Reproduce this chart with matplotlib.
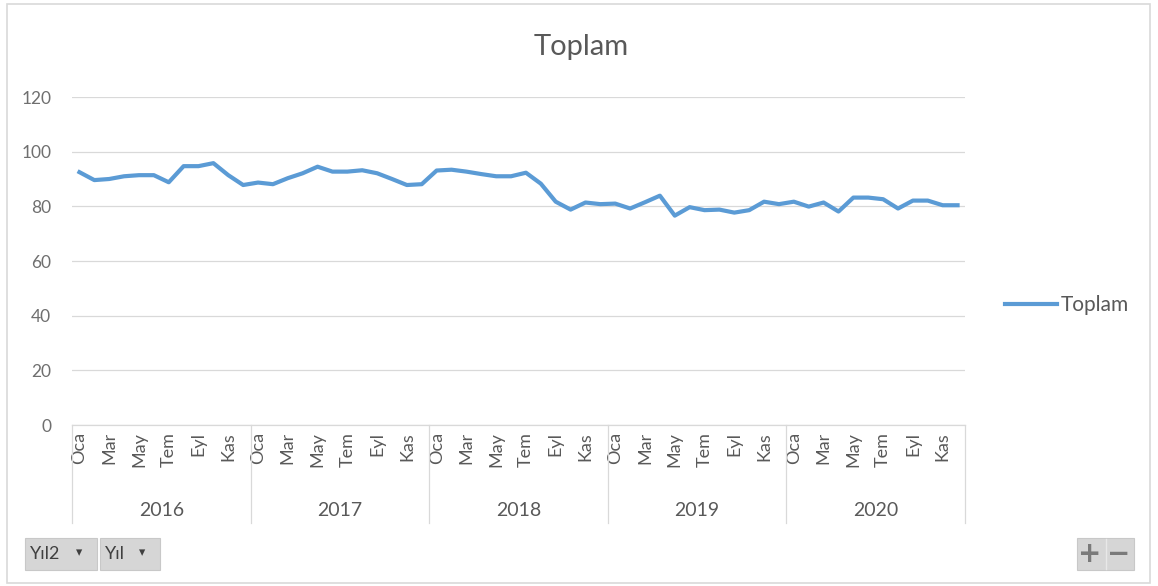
import matplotlib
matplotlib.use("Agg")
import matplotlib.pyplot as plt
import matplotlib.transforms as mtransforms
from matplotlib.patches import Rectangle

plt.rcParams['font.family'] = ['Lato', 'DejaVu Sans']

# aylık toplam değerler, 2016-2020
years = ["2016", "2017", "2018", "2019", "2020"]
months = ["Oca", "Şub", "Mar", "Nis", "May", "Haz",
          "Tem", "Ağu", "Eyl", "Eki", "Kas", "Ara"]
toplam_2016 = [92.5, 89.6, 90.0, 91.0, 91.4, 91.4, 88.8, 94.7, 94.7, 95.8, 91.4, 87.8]
toplam_2017 = [88.7, 88.1, 90.3, 92.1, 94.5, 92.7, 92.7, 93.2, 92.1, 90.0, 87.8, 88.1]
toplam_2018 = [93.1, 93.4, 92.7, 91.8, 91.0, 91.0, 92.3, 88.3, 81.7, 78.8, 81.4, 80.8]
toplam_2019 = [81.0, 79.2, 81.5, 83.9, 76.6, 79.7, 78.6, 78.8, 77.7, 78.6, 81.7, 80.8]
toplam_2020 = [81.7, 79.9, 81.4, 78.1, 83.2, 83.2, 82.6, 79.2, 82.1, 82.1, 80.4, 80.4]

toplam = toplam_2016 + toplam_2017 + toplam_2018 + toplam_2019 + toplam_2020
x = list(range(len(toplam)))

W, H = 1158, 586
fig = plt.figure(figsize=(W / 100, H / 100), dpi=100)
ax = fig.add_axes([72 / W, (H - 425) / H, 893 / W, 328 / H])

grey_txt = "#595959"
grid_col = "#d9d9d9"

ax.plot(x, toplam, color="#5B9BD5", linewidth=3.0, label="Toplam",
        solid_joinstyle="round", zorder=3)

ax.set_xlim(-0.5, len(toplam) - 0.5)
ax.set_ylim(0, 120)
ax.set_yticks(range(0, 121, 20))
ax.yaxis.grid(True, color=grid_col, linewidth=0.9)
ax.set_axisbelow(True)
for side in ["top", "right", "left"]:
    ax.spines[side].set_visible(False)
ax.spines["bottom"].set_color(grid_col)
ax.spines["bottom"].set_linewidth(0.9)
ax.tick_params(axis="y", length=0, pad=15, labelsize=12.5, labelcolor="#6f6f6f")

# ay etiketleri (iki ayda bir)
ax.set_xticks(x)
ax.set_xticklabels([months[i % 12] if i % 2 == 0 else "" for i in x],
                   rotation=90, fontsize=13, color=grey_txt)
ax.tick_params(axis="x", length=0, pad=5)

# yıl grupları
trans = mtransforms.blended_transform_factory(ax.transData, ax.transAxes)
for k in range(len(years) + 1):
    ax.plot([k * 12 - 0.5, k * 12 - 0.5], [0, -0.3], color=grid_col,
            linewidth=0.9, transform=trans, clip_on=False)
for k, yr in enumerate(years):
    ax.text(k * 12 + 5.5, -0.26, yr, transform=trans, ha="center", va="center",
            fontsize=14, color=grey_txt)

fig.text(581 / W, (H - 47) / H, "Toplam", ha="center", va="center",
         fontsize=21, color=grey_txt)

ax.legend(loc="center left", bbox_to_anchor=(986 / W, (H - 305) / H),
          bbox_transform=fig.transFigure, frameon=False, handlelength=2.5,
          handletextpad=0.2, fontsize=15, labelcolor=grey_txt)


def px_rect(x0, y0, x1, y1, **kw):
    return Rectangle((x0 / W, (H - y1) / H), (x1 - x0) / W, (y1 - y0) / H,
                     transform=fig.transFigure, **kw)


# grafik çerçevesi
fig.patches.append(px_rect(7, 4, 1150, 583, facecolor="none",
                           edgecolor=grid_col, linewidth=1.2))

# alan düğmeleri
for x0, x1, lbl in [(25, 97, "Yıl2"), (100, 160, "Yıl")]:
    fig.patches.append(px_rect(x0, 538, x1, 570, facecolor="#d6d6d6",
                               edgecolor="#c8c8c8", linewidth=0.8))
    fig.text((x0 + 5) / W, (H - 554) / H, lbl, ha="left", va="center",
             fontsize=13, color="#404040")
    fig.text((x1 - 18) / W, (H - 553) / H, "▾", ha="center", va="center",
             fontsize=9, color="#404040", family="DejaVu Sans")

fig.patches.append(px_rect(1077, 538, 1134, 570, facecolor="#d6d6d6",
                           edgecolor="#c8c8c8", linewidth=0.8))
ax.figure.lines.append(plt.Line2D([1105.5 / W, 1105.5 / W],
                                  [(H - 569) / H, (H - 539) / H],
                                  transform=fig.transFigure,
                                  color="#e8e8e8", linewidth=1))
fig.text(1090 / W, (H - 554) / H, "+", ha="center", va="center",
         fontsize=20, fontweight="bold", color="#7a7a7a", family="DejaVu Sans")
fig.text(1119 / W, (H - 554) / H, "−", ha="center", va="center",
         fontsize=20, fontweight="bold", color="#7a7a7a", family="DejaVu Sans")

fig.savefig("out.png", dpi=100, facecolor="white")
